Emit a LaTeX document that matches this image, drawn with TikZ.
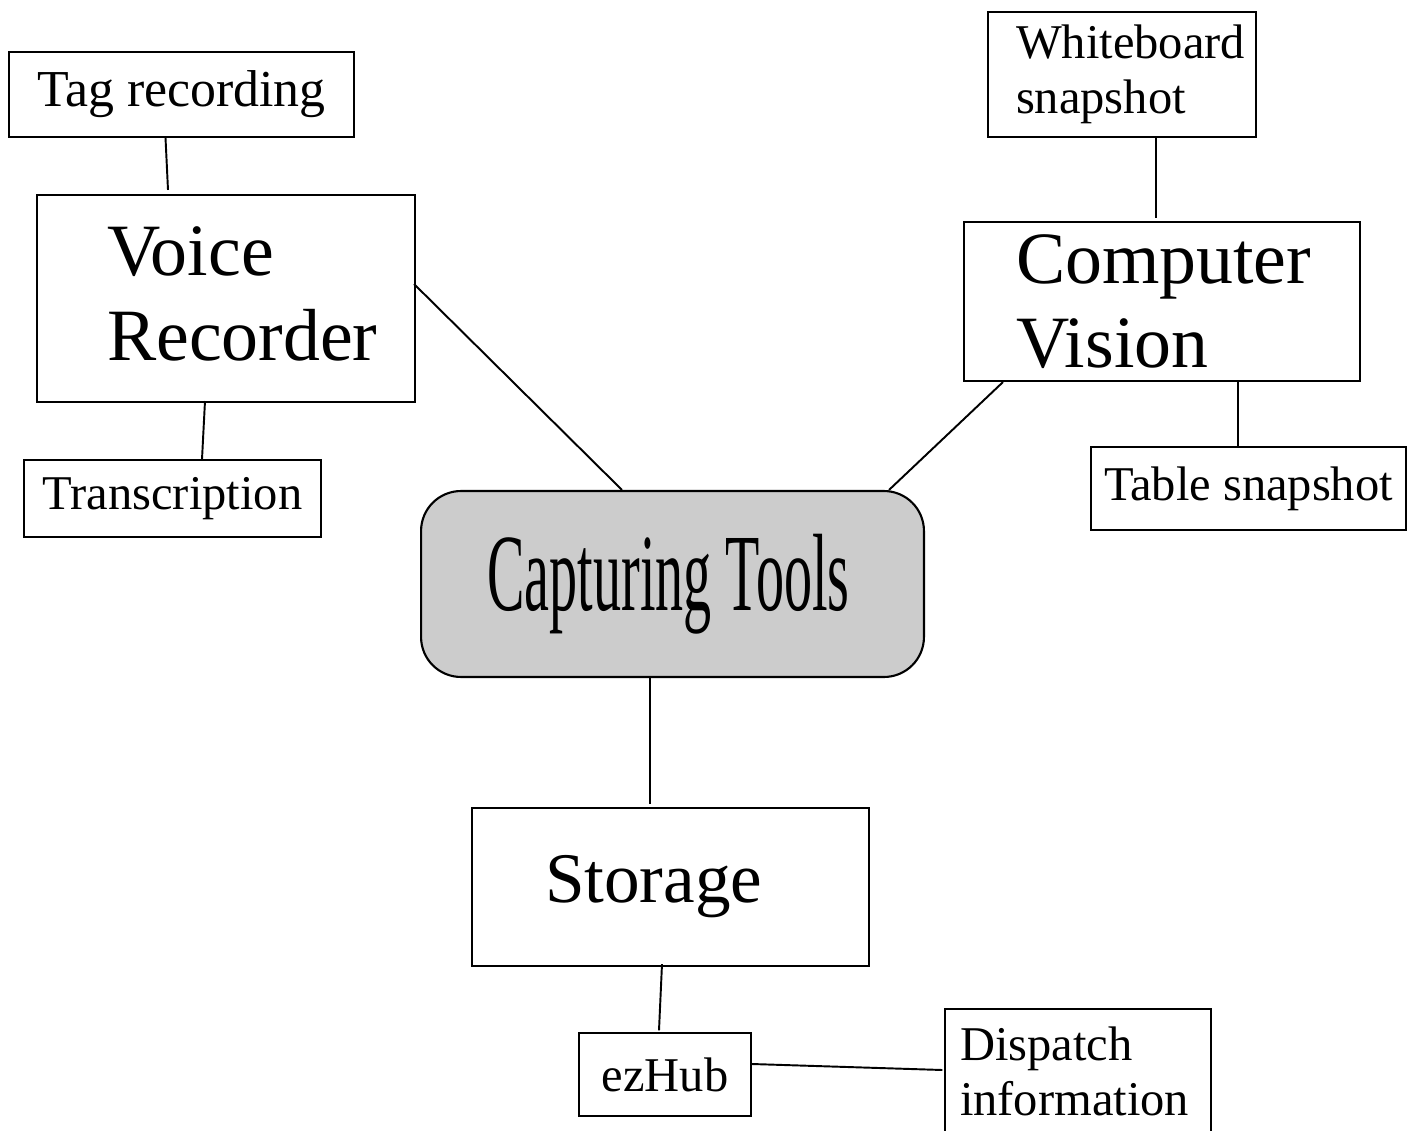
\documentclass[tikz,border=0pt]{standalone}
\usepackage{graphicx}
\usepackage{fontspec}
\setmainfont{Liberation Serif}
\usetikzlibrary{calc}

\begin{document}
\begin{tikzpicture}[x=0.02cm, y=-0.02cm,
    sm/.style={draw, line width=0.8pt, inner sep=0pt, font=\fontsize{27.6}{31}\selectfont},
    bg/.style={draw, line width=1.2pt, inner sep=0pt, font=\fontsize{42}{48}\selectfont},
    core/.style={draw, line width=1.2pt, rounded corners=0.8cm, fill=black!20, inner sep=0pt,
                 minimum width=10.06cm, minimum height=3.72cm},
    link/.style={line width=1.1pt}]
\useasboundingbox (0,0) rectangle (1416,1131);
\node[sm, minimum width=6.9cm, minimum height=1.7cm, font=\fontsize{29.5}{31}\selectfont] (tag) at (181.5,94.5) {Tag recording};
\node[bg, minimum width=7.56cm, minimum height=4.14cm, text width=4.76cm, align=left, text depth=1.89cm] (vr) at (226,298.5) {Voice\\Recorder};
\node[sm, minimum width=5.94cm, minimum height=1.54cm] (trans) at (172.5,498.5) {Transcription};
\node[core] (cap) at (672.5,584) {\scalebox{0.51}[1]{\fontsize{62.6}{62.6}\selectfont Capturing Tools}\kern0.16cm};
\node[sm, minimum width=5.36cm, minimum height=2.5cm, text width=4.24cm, align=left] (wb) at (1122,74.5) {Whiteboard\\snapshot};
\node[bg, minimum width=7.92cm, minimum height=3.18cm, text width=5.84cm, align=left] (cv) at (1162,301.5) {Computer\\Vision};
\node[sm, minimum width=6.3cm, minimum height=1.66cm] (tab) at (1248.5,488.5) {Table snapshot};
\node[bg, minimum width=7.94cm, minimum height=3.16cm, text width=5.02cm, align=left, font=\fontsize{40.5}{48}\selectfont] (sto) at (670.5,887) {Storage};
\node[sm, minimum width=3.44cm, minimum height=1.66cm] (ez) at (665,1074.5) {ezHub};
\node[sm, minimum width=5.32cm, minimum height=2.5cm, text width=4.72cm, align=left] (disp) at (1078,1071.5) {Dispatch\\information};
% connectors
\draw[link] ($(tag.south)+(-16,0)$) -- ($(vr.north)+(-58,-4)$);
\draw[link] ($(vr.east)+(-2,-14.5)$) -- ($(cap.north)+(-50.5,0)$);
\draw[link] ($(vr.south)+(-21,-2)$) -- ($(trans.north)+(29.5,0)$);
\draw[link] ($(cv.south)+(-159,0)$) -- ($(cap.north)+(216.5,0)$);
\draw[link] ($(wb.south)+(34,0)$) -- ($(cv.north)+(-6,-3)$);
\draw[link] ($(cv.south)+(76,0)$) -- ($(tab.north)+(-10.5,2)$);
\draw[link] ($(cap.south)+(-22.5,0)$) -- ($(sto.north)+(-20.5,-3)$);
\draw[link] ($(sto.south)+(-8.5,-3)$) -- ($(ez.north)+(-6,-2)$);
\draw[link] ($(ez.east)+(0,-10.5)$) -- ($(disp.west)+(-2,-1.5)$);
\end{tikzpicture}
\end{document}
